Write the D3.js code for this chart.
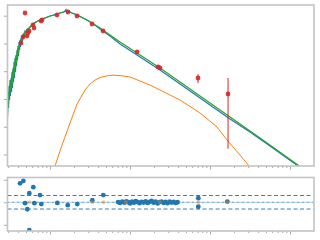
<!DOCTYPE html>
<html>
<head>
<meta charset="utf-8">
<script src="https://cdn.jsdelivr.net/npm/d3@7"></script>
<style>
  body { margin: 0; background: #fff; }
</style>
</head>
<body>
<div id="chart"></div>
<script>
// 測光點 (波長 μm, 通量)
const photWave = [0.487, 0.434, 0.460, 0.516, 0.531, 0.546, 0.613, 0.631, 0.772, 0.794,
                  1.223, 1.679, 2.175, 3.35, 4.60, 12.24, 22.4, 23.7, 70.8, 168]
const photFlux = [1251, 104, 171, 185, 238, 281, 462, 361, 644, 700,
                  1060, 1359, 975, 502, 281, 49.2, 14.2, 13.1, 5.69, 1.51]
const photErrLo = [38, 3, 5, 6, 7, 8, 14, 11, 19, 21, 32, 41, 29, 15, 8, 1.5, 0.4, 0.4, 2.0, 1.494]
const photErrHi = [38, 3, 5, 6, 7, 8, 14, 11, 19, 21, 32, 41, 29, 15, 8, 1.5, 0.4, 0.4, 2.0, 4.18]

// 藍色光譜 + 模型
const blueWave = [0.294, 0.2985, 0.3029, 0.307, 0.3117, 0.316, 0.3207, 0.3256, 0.3302, 0.335,
                  0.3398, 0.345, 0.3497, 0.355, 0.3599, 0.365, 0.3704, 0.376, 0.3812, 0.387,
                  0.3923, 0.398, 0.4037, 0.410, 0.4155, 0.422, 0.4276, 0.434, 0.4401, 0.447,
                  0.4529, 0.460, 0.4661, 0.473, 0.4797, 0.487, 0.501, 0.516, 0.531, 0.562,
                  0.613, 0.668, 0.750, 0.866, 1.0, 1.155, 1.334, 1.496, 1.585, 1.631,
                  1.679, 1.884, 2.175, 2.738, 3.35, 4.217, 5.62, 7.50, 12.24, 23.7,
                  75.0, 177.8, 316, 562, 1540]
const blueFlux = [0.206, 1.78, 0.472, 2.93, 0.917, 4.82, 1.28, 5.69, 1.78, 9.36,
                  2.48, 13.0, 4.08, 21.5, 5.69, 29.9, 9.36, 38.4, 15.4, 58.1,
                  25.3, 80.9, 35.3, 112.8, 58.1, 133.1, 74.5, 157.2, 95.5, 185.5,
                  122.5, 219, 157.2, 238, 185.5, 280.9, 258.6, 331.7, 331.7, 392,
                  502, 593, 700, 826, 975, 1104, 1251, 1359, 1671, 1251,
                  1477, 1251, 1060, 760, 546, 332, 185, 95.5, 38.4, 11.1,
                  1.08, 0.190, 0.0644, 0.0202, 0.00254]

// 綠色光譜 + 模型
const greenWave = [0.294, 0.2985, 0.3029, 0.307, 0.3117, 0.316, 0.3207, 0.3256, 0.3302, 0.335,
                   0.3398, 0.345, 0.3497, 0.355, 0.3599, 0.365, 0.3704, 0.376, 0.3812, 0.387,
                   0.3923, 0.398, 0.4037, 0.410, 0.4155, 0.422, 0.4276, 0.434, 0.4401, 0.447,
                   0.4529, 0.460, 0.4661, 0.473, 0.4797, 0.487, 0.501, 0.516, 0.531, 0.562,
                   0.613, 0.668, 0.750, 0.866, 1.0, 1.155, 1.334, 1.54, 1.679, 1.884,
                   2.175, 2.738, 3.35, 4.217, 5.62, 7.50, 12.24, 23.7, 75.0, 177.8,
                   422, 1540]
const greenFlux = [0.264, 1.08, 0.658, 2.10, 1.18, 3.46, 1.78, 4.82, 2.48, 7.30,
                   3.46, 11.0, 5.69, 15.4, 8.61, 25.3, 13.0, 35.3, 19.7, 49.2,
                   29.9, 68.6, 45.3, 87.9, 63.1, 112.8, 87.9, 144.7, 112.8, 170.8,
                   133.1, 201.6, 170.8, 219, 201.6, 258.6, 238, 305.2, 305.2, 392,
                   502, 593, 700, 826, 975, 1060, 1251, 1417, 1477, 1251,
                   1060, 760, 546, 361, 202, 113, 45.3, 13.1, 1.28, 0.224,
                   0.0392, 0.00275]

// 橘色 (塵埃成分)
const dustWave = [1.090, 1.155, 1.413, 1.778, 2.175, 2.738, 3.162, 3.652, 4.217, 5.012,
                  6.13, 7.50, 10, 17.78, 42.2, 75.0, 122.4, 163, 237, 316, 345]
const dustFlux = [0.00182, 0.00384, 0.0219, 0.136, 0.658, 2.10, 3.46, 4.82, 5.93, 6.72,
                  7.17, 7.00, 6.18, 3.18, 0.917, 0.312, 0.0977, 0.0332, 0.00955, 0.00353, 0.00254]

// 殘差 (測光)
const resWave = [0.422, 0.464, 0.487, 0.520, 0.551, 0.551, 0.618, 0.637, 0.750, 0.778,
                 1.234, 1.665, 2.194, 3.38, 4.64, 71.4, 71.4, 164.5]
const resVal = [8.4, 9.5, -0.4, -3.1, 4.0, -12.4, 6.7, -0.4, 3.2, -0.8,
                -0.3, -1.3, -0.8, 0.9, 3.2, 1.8, -2.0, 0.3]

// 殘差 (光譜)
const specResWave = [7.1, 7.5, 8.0, 8.5, 9.0, 9.5, 10, 10.6, 11.2, 11.8,
                     12.5, 13.2, 14, 14.8, 15.7, 16.6, 17.6, 18.6, 19.7, 20.9,
                     22.1, 23.4, 24.8, 26.3, 27.8, 29.5, 31.2, 33.1, 35.0, 37.1, 39.3]
const specRes = [0.1, -0.3, 0.3, -0.2, 0.4, 0.0, -0.5, 0.3, -0.2, 0.5,
                 0.1, -0.4, 0.2, -0.1, 0.4, -0.3, 0.2, 0.6, -0.2, 0.3,
                 -0.5, 0.1, 0.3, -0.3, 0.2, -0.4, 0.3, -0.1, 0.2, -0.3, 0.0]

// 模型殘差 (橘色)
const modelResWave = [0.551, 3.38, 4.64, 8.91, 23.7, 71.4, 164.5]
const modelRes = [0, 0, 0, 0, 0, 0, 0]

const xMajor = [1, 10, 100, 1000]
const yMajor = [0.01, 0.1, 1, 10, 100, 1000]
const resTicks = [-10, 0, 10]
const resLimit = 3

function drawChart() {
  const W = 320, H = 240
  const left = 7.5, right = 314
  const top1 = 5, bot1 = 166, top2 = 177.5, bot2 = 231

  const svg = d3.select('#chart').append('svg')
    .attr('width', W).attr('height', H)

  const xScale = d3.scaleLog().domain([0.294, 1995]).range([left, right])
  const yScale = d3.scaleLog().domain([0.00384, 2430]).range([bot1, top1])
  const rScale = d3.scaleLinear().domain([-12.76, 11.0]).range([bot2, top2])

  // clip
  const defs = svg.append('defs')
  defs.append('clipPath').attr('id', 'clipTop').append('rect')
    .attr('x', left).attr('y', top1).attr('width', right - left).attr('height', bot1 - top1)
  defs.append('clipPath').attr('id', 'clipBot').append('rect')
    .attr('x', left).attr('y', top2).attr('width', right - left).attr('height', bot2 - top2)

  // 刻度
  const minor = xScale.ticks().filter(d => !xMajor.some(m => Math.abs(m - d) < 1e-9))
  function xTicks(y) {
    svg.append('g').attr('transform', `translate(0,${y})`)
      .call(d3.axisBottom(xScale).tickValues(xMajor).tickSize(3.5).tickFormat(''))
      .call(g => g.select('.domain').remove())
    svg.append('g').attr('transform', `translate(0,${y})`)
      .call(d3.axisBottom(xScale).tickValues(minor).tickSize(2).tickFormat(''))
      .call(g => g.select('.domain').remove())
  }
  xTicks(bot1)
  xTicks(bot2)
  svg.append('g').attr('transform', `translate(${left},0)`)
    .call(d3.axisLeft(yScale).tickValues(yMajor).tickSize(3.5).tickFormat(''))
    .call(g => g.select('.domain').remove())
  svg.append('g').attr('transform', `translate(${left},0)`)
    .call(d3.axisLeft(rScale).tickValues(resTicks).tickSize(3.5).tickFormat(''))
    .call(g => g.select('.domain').remove())
  svg.selectAll('.tick line').attr('stroke', '#a8a8a8')

  // 上圖
  const topG = svg.append('g').attr('clip-path', 'url(#clipTop)')
  const line = d3.line().x(d => xScale(d[0])).y(d => yScale(d[1]))

  topG.append('path').attr('d', line(d3.zip(blueWave, blueFlux)))
    .attr('fill', 'none').attr('stroke', '#1f77b4').attr('stroke-width', 1.2)
  topG.append('path').attr('d', line(d3.zip(dustWave, dustFlux)))
    .attr('fill', 'none').attr('stroke', '#ff7f0e').attr('stroke-width', 1)
  topG.append('path').attr('d', line(d3.zip(greenWave, greenFlux)))
    .attr('fill', 'none').attr('stroke', '#2ca02c').attr('stroke-width', 1.2)

  const phot = d3.range(photWave.length)
  topG.selectAll('.err').data(phot).join('line')
    .attr('x1', i => xScale(photWave[i])).attr('x2', i => xScale(photWave[i]))
    .attr('y1', i => yScale(photFlux[i] - photErrLo[i]))
    .attr('y2', i => yScale(photFlux[i] + photErrHi[i]))
    .attr('stroke', '#d62728').attr('stroke-width', 1)
  topG.selectAll('.pt').data(phot).join('circle')
    .attr('cx', i => xScale(photWave[i])).attr('cy', i => yScale(photFlux[i]))
    .attr('r', 2.4).attr('fill', '#d62728').attr('opacity', 0.9)

  // 下圖 (殘差)
  const botG = svg.append('g').attr('clip-path', 'url(#clipBot)')
  botG.append('line').attr('x1', left).attr('x2', right)
    .attr('y1', rScale(0)).attr('y2', rScale(0))
    .attr('stroke', '#a9cde9').attr('stroke-width', 1)
  botG.append('line').attr('x1', left).attr('x2', right)
    .attr('y1', rScale(0)).attr('y2', rScale(0))
    .attr('stroke', '#1f77b4').attr('stroke-width', 1).attr('stroke-dasharray', '1,4')
  botG.selectAll('.lim').data([resLimit, -resLimit]).join('line')
    .attr('x1', left).attr('x2', right)
    .attr('y1', d => rScale(d)).attr('y2', d => rScale(d))
    .attr('stroke', '#3a7fb8').attr('stroke-width', 1).attr('stroke-dasharray', '4,2.5')

  botG.selectAll('.sres').data(d3.zip(specResWave, specRes)).join('circle')
    .attr('cx', d => xScale(d[0])).attr('cy', d => rScale(d[1]))
    .attr('r', 2.4).attr('fill', '#1f77b4')
  botG.selectAll('.res').data(d3.zip(resWave, resVal)).join('circle')
    .attr('cx', d => xScale(d[0])).attr('cy', d => rScale(d[1]))
    .attr('r', 2.4).attr('fill', '#1f77b4')
  botG.selectAll('.mres').data(d3.zip(modelResWave, modelRes)).join('circle')
    .attr('cx', d => xScale(d[0])).attr('cy', d => rScale(d[1]))
    .attr('r', 2).attr('fill', '#ff7f0e').attr('opacity', 0.45)

  // 外框
  svg.append('rect').attr('x', left).attr('y', top1)
    .attr('width', right - left).attr('height', bot1 - top1)
    .attr('fill', 'none').attr('stroke', '#c4c4c4').attr('stroke-width', 1.6)
  svg.append('rect').attr('x', left).attr('y', top2)
    .attr('width', right - left).attr('height', bot2 - top2)
    .attr('fill', 'none').attr('stroke', '#c4c4c4').attr('stroke-width', 1.6)
}
drawChart()
</script>
</body>
</html>
